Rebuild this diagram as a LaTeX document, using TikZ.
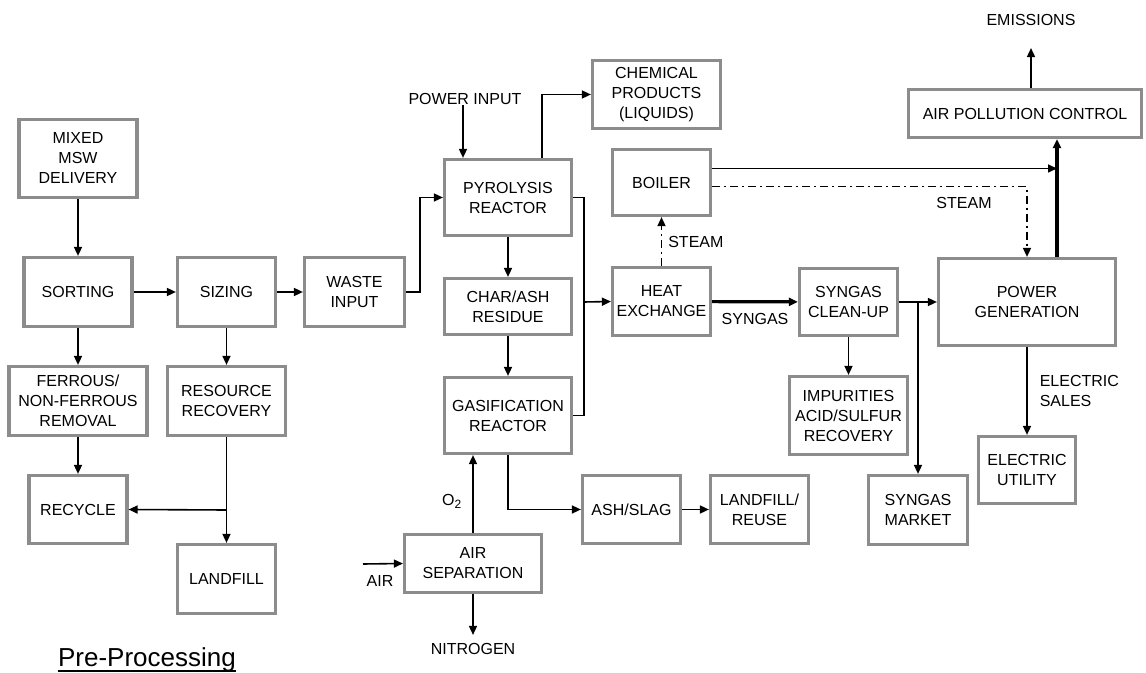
\documentclass[tikz,border=0pt]{standalone}
\usepackage{fontspec}
\setmainfont{Liberation Sans}
\usepackage{tikz}
\usetikzlibrary{calc,arrows.meta}
\definecolor{ink}{HTML}{000000}
\definecolor{frame}{HTML}{8C8C8C}
\tikzset{
  box/.style={draw=frame, line width=1.6pt, fill=white, align=center, inner sep=0pt, font=\fontsize{8}{10}\selectfont},
  sz/.style 2 args={minimum width={(#1-3)*0.5pt}, minimum height={(#2-3)*0.5pt}},
  arr/.style={draw=ink, line width=0.8pt, -{Triangle[length=4.5pt,width=4pt]}},
  flow/.style={draw=ink, line width=0.8pt},
  fat/.style={line width=1.6pt},
  dd/.style={dash pattern=on 4pt off 2pt on 1pt off 2pt},
  lab/.style={text=ink, align=left, inner sep=0pt, font=\fontsize{8}{10}\selectfont},
}

\begin{document}
\begin{tikzpicture}[x=0.5pt,y=-0.5pt]
  \fill[white] (0,0) rectangle (1146,673);
  \useasboundingbox (0,0) rectangle (1146,673);
  % pre-processing
  \node[box,sz={121}{81}] (mixed) at (78,158.5) {MIXED\\MSW\\DELIVERY};
  \node[box,sz={111}{72}] (sorting) at (78,292) {SORTING};
  \node[box,sz={101}{72}] (sizing) at (226.5,292) {SIZING};
  \node[box,sz={103}{72}] (waste) at (354.5,292) {WASTE\\INPUT};
  \node[box,sz={141}{72}] (ferrous) at (78,401) {FERROUS/\\NON-FERROUS\\REMOVAL};
  \node[box,sz={121}{72}] (resource) at (226.5,401) {RESOURCE\\RECOVERY};
  \node[box,sz={101}{71}] (recycle) at (78,509.5) {RECYCLE};
  \node[box,sz={101}{72}] (landfill) at (226.5,579) {LANDFILL};
  \node[lab,anchor=base,font=\fontsize{13}{15}\selectfont] (preproc) at (147,666) {Pre-Processing};
  \draw[line width=0.7pt] ($(preproc.base west)+(0,5)$) -- ($(preproc.base east)+(0,5)$);
  \draw[arr] (mixed) -- (sorting);
  \draw[arr] (sorting) -- (sizing);
  \draw[arr] (sizing) -- (waste);
  \draw[arr] (sorting) -- (ferrous);
  \draw[arr] (sizing) -- (resource);
  \draw[arr] (ferrous) -- (recycle);
  \draw[arr] (resource) -- (landfill);
  \coordinate (split) at (226.5,510);
  \draw[arr] (split) -- (recycle.east);

  % reactors
  \node[box,sz={130}{79}] (pyro) at (508,197.5) {PYROLYSIS\\REACTOR};
  \node[box,sz={130}{59}] (char) at (508,306.5) {CHAR/ASH\\RESIDUE};
  \node[box,sz={130}{79}] (gasif) at (508,415.5) {GASIFICATION\\REACTOR};
  \node[box,sz={140}{61}] (airsep) at (473,563.5) {AIR\\SEPARATION};
  \node[box,sz={101}{71}] (ashslag) at (631.5,509.5) {ASH/SLAG};
  \node[box,sz={101}{71}] (reuse) at (759.5,509.5) {LANDFILL/\\REUSE};
  \node[box,sz={131}{71}] (chem) at (656.5,94.5) {CHEMICAL\\PRODUCTS\\(LIQUIDS)};
  \node[lab] (pwrin) at (465,99) {POWER INPUT};
  \node[lab] (nitro) at (473,649) {NITROGEN};
  \node[lab] (air) at (380,581) {AIR};
  \coordinate (airin) at (363,564);
  \draw[arr] (waste.east) -- ++(14,0) |- (pyro.west);
  \draw[arr] (pwrin.south -| 463,0) -- (pyro.north -| 463,0);
  \draw[arr] ([xshift=17pt]pyro.north) |- (chem.west);
  \draw[arr] (pyro) -- (char);
  \draw[arr] (char) -- (gasif);
  \draw[arr] (gasif.south) |- (ashslag.west);
  \draw[arr] (ashslag) -- (reuse);
  \draw[arr] (airsep.north) -- node[lab,left=5pt,pos=0.4] (o2) {O\textsubscript{2}} (airsep.north |- gasif.south);
  \draw[arr] (airsep.south) -- ($(nitro.north)+(0,-8)$);
  \draw[arr] (airin) -- (airsep.west);

  % gas handling
  \node[box,sz={101}{69}] (boiler) at (661.5,182.5) {BOILER};
  \node[box,sz={101}{71}] (heatex) at (661.5,301.5) {HEAT\\EXCHANGE};
  \node[box,sz={101}{70}] (cleanup) at (848.5,302) {SYNGAS\\CLEAN-UP};
  \node[box,sz={121}{81}] (impur) at (848.5,415.5) {IMPURITIES\\ACID/SULFUR\\RECOVERY};
  \node[box,sz={102}{72}] (market) at (918,510) {SYNGAS\\MARKET};
  \node[box,sz={180}{90}] (powergen) at (1027,302) {POWER\\GENERATION};
  \node[box,sz={236}{51}] (apc) at (1025,113.5) {AIR POLLUTION CONTROL};
  \node[box,sz={100}{70}] (utility) at (1027,470) {ELECTRIC\\UTILITY};
  \node[lab] (emis) at (1031,20) {EMISSIONS};
  \coordinate (jn) at (584,302);
  \draw[flow] (pyro.east) -| (jn);
  \draw[flow] (gasif.east) -| (jn);
  \draw[arr] (jn) -- (heatex.west);
  \draw[arr,dd] (heatex) -- node[lab,right=3pt] (steam1) {STEAM} (boiler);
  \draw[arr,fat] (heatex) -- node[lab,below=5pt] (syngas) {SYNGAS} (cleanup);
  \draw[arr] (cleanup) -- (powergen);
  \draw[arr] (cleanup) -- (impur);
  \coordinate (tap) at (918,302);
  \draw[arr] (tap) -- (market);
  \coordinate (pgtop) at (1057,257);
  \draw[arr,fat] (pgtop) -- (pgtop |- apc.south);
  \coordinate (bout) at ($(boiler.east)+(0,-14)$);
  \draw[arr] (bout) -- (bout -| pgtop);
  \coordinate (bsteam) at ($(boiler.east)+(0,4)$);
  \draw[arr,dd] (bsteam) -| node[lab,pos=0.4,below=5pt] (steam2) {STEAM} (powergen.north);
  \draw[arr] (powergen) -- node[lab,right=6pt] (sales) {ELECTRIC\\SALES} (utility);
  \draw[arr] (apc.north -| emis) -- ($(emis.south)+(0,22)$);
\end{tikzpicture}
\end{document}
